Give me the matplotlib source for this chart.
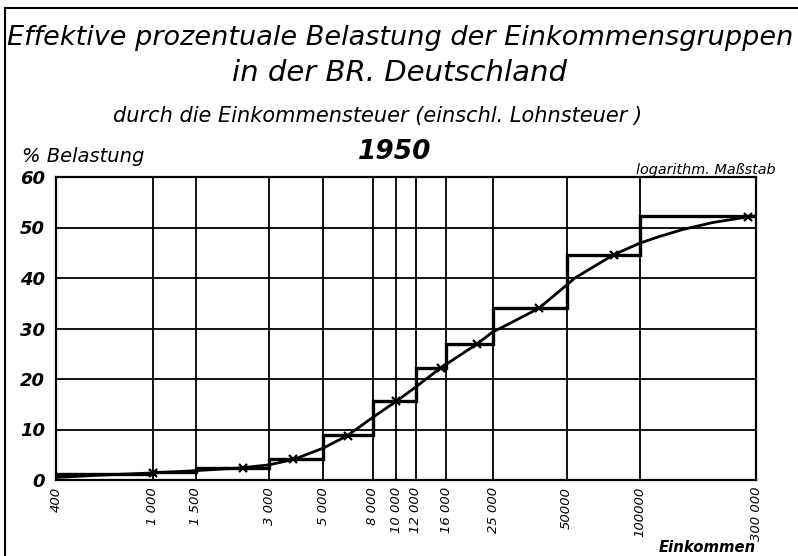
import numpy as np
import matplotlib.pyplot as plt
from matplotlib.lines import Line2D

# Stufen der Einkommensgruppen (Grenzen und Belastung in %)
step_edges = [400, 1000, 1500, 3000, 5000, 8000, 12000, 16000, 25000, 50000, 100000, 300000]
step_values = [1.2, 1.5, 2.3, 4.1, 8.9, 15.6, 22.2, 27.0, 34.0, 44.6, 52.3]

# geglaettete Kurve
curve_x = [400, 600, 1000, 1500, 2300, 3000, 3800, 5000, 6300, 8000, 10000, 12000,
           15200, 16000, 21400, 25000, 26600, 38500, 50000, 54100, 78000, 100000,
           120000, 150000, 200000, 278000, 300000]
curve_y = [0.5, 0.95, 1.4, 1.85, 2.4, 3.0, 4.1, 6.3, 8.8, 12.4, 15.6, 18.4,
           22.2, 22.9, 26.9, 29.4, 30.0, 34.0, 38.6, 40.0, 44.6, 46.9,
           48.2, 49.6, 51.0, 52.1, 52.3]

# Markierungen (x) auf der Kurve
mark_x = [1000, 2350, 3770, 6300, 10000, 15200, 21400, 38500, 78000, 278000]
mark_y = [1.45, 2.35, 4.1, 8.8, 15.6, 22.2, 26.9, 34.0, 44.6, 52.1]

tick_pos = [400, 1000, 1500, 3000, 5000, 8000, 10000, 12000, 16000, 25000, 50000, 100000, 300000]
tick_lab = ['400', '1 000', '1 500', '3 000', '5 000', '8 000', '10 000', '12 000',
            '16 000', '25 000', '50000', '100000', '300 000']
y_ticks = [0, 10, 20, 30, 40, 50, 60]

W, H = 798, 556
fig = plt.figure(figsize=(W / 100, H / 100), dpi=100)
fig.patch.set_facecolor('white')

def fx(px):
    return px / W

def fy(py):
    return 1 - py / H

ax = fig.add_axes([fx(56), fy(480), fx(756) - fx(56), fy(177) - fy(480)])
ax.set_xscale('log')
ax.set_xlim(400, 300000)
ax.set_ylim(0, 60)

for s in ax.spines.values():
    s.set_linewidth(1.6)
    s.set_color('black')

# Gitter
for x in tick_pos:
    ax.axvline(x, color='black', lw=1.3, zorder=1)
for y in y_ticks[1:-1]:
    ax.axhline(y, color='black', lw=1.3, zorder=1)

# Treppenfunktion
sx = []
sy = []
for i, v in enumerate(step_values):
    sx += [step_edges[i], step_edges[i + 1]]
    sy += [v, v]
ax.plot(sx, sy, color='black', lw=2.4, zorder=3, solid_joinstyle='miter')

# Kurve
ax.plot(curve_x, curve_y, color='black', lw=2.0, zorder=4)
ax.plot(mark_x, mark_y, 'x', color='black', ms=6, mew=1.6, zorder=5)

ax.set_xticks(tick_pos)
ax.set_xticklabels(tick_lab)
ax.minorticks_off()
ax.tick_params(axis='x', length=0, pad=5)
ax.tick_params(axis='y', length=0, pad=8)
for t in ax.get_xticklabels():
    t.set_rotation(90)
    t.set_fontsize(9.5)
    t.set_fontstyle('italic')
    t.set_va('top')
ax.set_yticks(y_ticks)
ax.set_yticklabels([str(v) for v in y_ticks])
for t in ax.get_yticklabels():
    t.set_fontsize(13)
    t.set_fontstyle('italic')
    t.set_fontweight('bold')

# Texte
fig.text(fx(400), fy(38), 'Effektive prozentuale Belastung der Einkommensgruppen',
         ha='center', va='center', fontsize=19.5, style='italic')
fig.text(fx(400), fy(73), 'in der BR. Deutschland', ha='center', va='center',
         fontsize=21, style='italic')
fig.text(fx(378), fy(116), 'durch die Einkommensteuer (einschl. Lohnsteuer )',
         ha='center', va='center', fontsize=15, style='italic')
fig.text(fx(395), fy(152), '1950', ha='center', va='center', fontsize=19,
         style='italic', weight='bold')
fig.text(fx(22), fy(157), '% Belastung', ha='left', va='center', fontsize=14,
         style='italic')
fig.text(fx(776), fy(170), 'logarithm. Maßstab', ha='right', va='center',
         fontsize=10.4, style='italic')
fig.text(fx(756), fy(548), 'Einkommen', ha='right', va='center', fontsize=10.7,
         style='italic', weight='bold')

# Rahmen links und oben
fig.add_artist(Line2D([fx(5), fx(5)], [fy(8), fy(556)], color='black', lw=1.5))
fig.add_artist(Line2D([fx(5), fx(798)], [fy(8), fy(8)], color='black', lw=1.5))

fig.savefig('out.png', dpi=100)
